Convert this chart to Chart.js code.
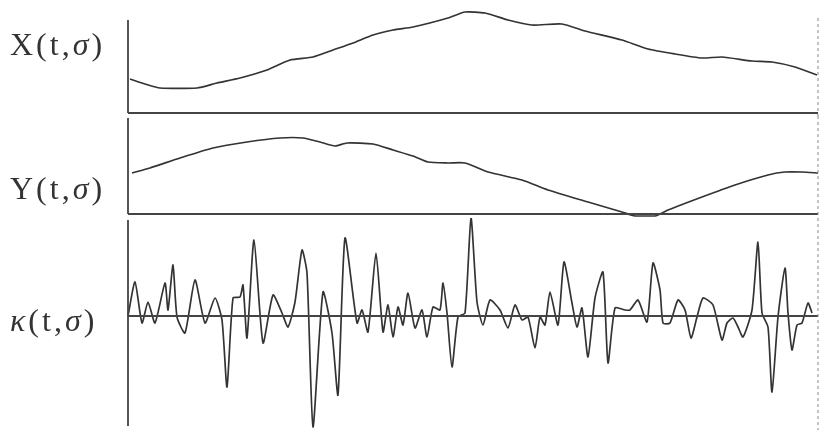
<!DOCTYPE html>
<html>
<head>
<meta charset="utf-8">
<script src="https://cdn.jsdelivr.net/npm/chart.js@4.4.0/dist/chart.umd.min.js"></script>
<style>
  body { margin: 0; background: #fff; }
  #wrap { position: relative; width: 830px; height: 430px; overflow: hidden; }
  canvas { position: absolute; left: 0; }
  .lab { position: absolute; left: 10px; font-family: "Liberation Serif", serif; font-size: 32px; color: #333; letter-spacing: 3px; line-height: 1; }
  .lab i { font-style: italic; }
</style>
</head>
<body>
<div id="wrap">
  <canvas id="c1" width="830" height="116" style="top:0"></canvas>
  <canvas id="c2" width="830" height="102" style="top:116px"></canvas>
  <canvas id="c3" width="830" height="212" style="top:218px"></canvas>
  <div class="lab" style="top:28px">X(t,<i>σ</i>)</div>
  <div class="lab" style="top:172px">Y(t,<i>σ</i>)</div>
  <div class="lab" style="top:304px"><i>κ</i>(t,<i>σ</i>)</div>
</div>
<script>
// t = position along the curve (0..690), values = height above the baseline
var tX = [2, 17, 32, 69, 89, 112, 139, 162, 185, 205, 225, 245, 265, 285, 320, 337, 357, 380, 404, 434, 457, 494, 520, 547, 574, 594, 624, 644, 667, 689];
var xVals = [34, 29, 25, 25, 30, 35, 43, 53, 56, 63, 70, 78, 83, 86, 95, 101, 100, 93, 88, 89, 82, 73, 64, 59, 55, 56, 52, 51, 46, 38];

var tY = [4, 22, 52, 85, 119, 152, 175, 192, 207, 219, 245, 265, 285, 300, 320, 337, 360, 394, 420, 460, 494, 507, 527, 540, 574, 607, 640, 657, 674, 690];
var yVals = [41, 46, 56, 66, 72, 76, 76, 72, 68, 71, 70, 64, 58, 52, 51, 51, 42, 34, 24, 12, 2, -2, -2, 4, 17, 29, 39, 42, 42, 41];

var tK = [0, 7, 14, 20, 27, 37, 40, 45, 49, 57,
          67, 77, 87, 94, 99, 105, 112, 115, 119, 126,
          135, 145, 154, 160, 167, 174, 179, 185, 195, 204,
          210, 217, 229, 234, 240, 248, 255, 260, 265, 270,
          275, 280, 287, 294, 299, 305, 312, 315, 319, 324,
          330, 337, 343, 349, 355, 362, 372, 380, 387, 394,
          400, 407, 412, 417, 422, 430, 436, 444, 449, 454,
          460, 467, 475, 480, 487, 497, 502, 510, 519, 525,
          532, 535, 542, 550, 557, 563, 569, 575, 585, 594,
          599, 605, 610, 615, 624, 630, 634, 640, 644, 650,
          657, 660, 664, 669, 674, 680, 684];
var kVals = [0, 34, -7, 14, -7, 33, 6, 51, -1, -17,
             36, -7, 18, -4, -71, 18, 19, 31, -22, 76,
             -27, 21, 3, -11, 14, 66, 43, -111, 24, -17,
             -79, 78, -7, 6, -16, 63, -16, 11, -21, 9,
             -9, 23, -12, 6, -21, 9, 6, 33, 3, -51,
             -1, 3, 98, 14, -9, 16, 6, -12, 11, -4,
             -1, -32, -1, -9, 24, -9, 54, 13, -11, 8,
             -41, 18, 44, -47, 8, 6, 6, 16, -6, 53,
             26, -7, -7, 16, 6, -22, -1, 18, 11, -24,
             -7, -2, -11, -21, 6, 74, 3, -11, -76, -1,
             48, 3, -34, -9, -7, 13, 3];

function pts(t, v) {
  var out = [];
  for (var i = 0; i < t.length; i++) out.push({ x: t[i], y: v[i] });
  return out;
}

// draws the left axis, the zero line and the dashed right edge
var framePlugin = {
  id: 'frame',
  afterDatasetsDraw: function (chart, args, opts) {
    var ctx = chart.ctx;
    var a = chart.chartArea;
    var y0 = chart.scales.y.getPixelForValue(0);
    ctx.save();
    ctx.strokeStyle = '#444';
    ctx.lineWidth = 1.8;
    ctx.beginPath();
    ctx.moveTo(a.left, opts.axisTop);
    ctx.lineTo(a.left, opts.axisBottom);
    ctx.moveTo(a.left, y0);
    ctx.lineTo(a.right, y0);
    ctx.stroke();
    ctx.strokeStyle = '#888';
    ctx.lineWidth = 1;
    ctx.setLineDash([3, 3]);
    ctx.beginPath();
    ctx.moveTo(a.right, opts.dashTop);
    ctx.lineTo(a.right, chart.height);
    ctx.stroke();
    ctx.restore();
  }
};

function makeChart(id, t, v, yMin, yMax, pad, frame) {
  return new Chart(document.getElementById(id), {
    type: 'line',
    data: {
      datasets: [{
        data: pts(t, v),
        borderColor: '#333',
        borderWidth: 1.7,
        pointRadius: 0,
        tension: 0.2,
        clip: false
      }]
    },
    options: {
      responsive: false,
      animation: false,
      layout: { padding: pad },
      plugins: { legend: { display: false }, tooltip: { enabled: false }, frame: frame },
      scales: {
        x: { type: 'linear', min: 0, max: 690, display: false },
        y: { min: yMin, max: yMax, display: false }
      }
    },
    plugins: [framePlugin]
  });
}

makeChart('c1', tX, xVals, 0, 103, { left: 128, right: 12, top: 10, bottom: 3 },
  { axisTop: 20, axisBottom: 113, dashTop: 18 });
makeChart('c2', tY, yVals, -2, 96, { left: 128, right: 12, top: 2, bottom: 2 },
  { axisTop: 2, axisBottom: 98, dashTop: 0 });
makeChart('c3', tK, kVals, -112, 96, { left: 128, right: 12, top: 2, bottom: 2 },
  { axisTop: 2, axisBottom: 208, dashTop: 0 });
</script>
</body>
</html>
